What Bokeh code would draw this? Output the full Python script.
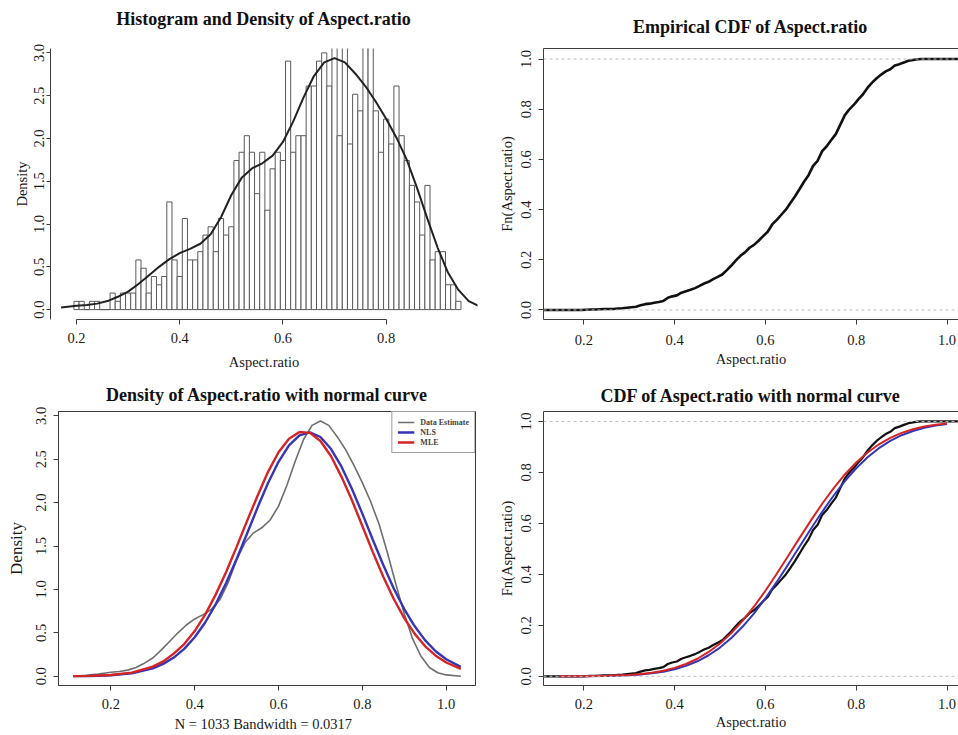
import numpy as np
from bokeh.plotting import figure
from bokeh.layouts import column, row
from bokeh.models import (FixedTicker, PrintfTickFormatter, Legend, LegendItem,
                          LinearAxis, Range1d, Span)
from bokeh.embed import file_html
from bokeh.resources import INLINE

# ------------------------------------------------------------------ data
n_obs = 1033
bandwidth = 0.0317
bin_start = 0.195
bin_width = 0.01
hist_counts = [1, 1, 0, 1, 1, 0, 0, 2, 1, 2, 2,
               2, 6, 5, 2, 4, 3, 4, 13, 6, 4,
               11, 6, 6, 7, 9, 10, 7, 11, 9, 10,
               18, 19, 21, 19, 14, 19, 12, 17, 19, 18,
               30, 19, 21, 21, 27, 27, 30, 31, 27,
               38, 21, 40, 20, 26, 24, 39, 39,
               24, 19, 23, 20, 27, 21, 18, 15, 13, 9, 15, 6, 7, 7, 3, 3, 1]

kde_x = [0.11, 0.14, 0.17, 0.20, 0.22, 0.24, 0.26, 0.28, 0.30, 0.32, 0.34, 0.36,
         0.38, 0.40, 0.42, 0.44, 0.46, 0.48, 0.50, 0.52, 0.54, 0.56, 0.58, 0.60,
         0.62, 0.64, 0.66, 0.68, 0.70, 0.72, 0.74, 0.76, 0.78, 0.80, 0.82, 0.84,
         0.86, 0.88, 0.90, 0.92, 0.94, 0.96, 0.98, 1.00, 1.035]
kde_y = [0.00, 0.01, 0.025, 0.045, 0.055, 0.07, 0.10, 0.15, 0.21, 0.30, 0.40, 0.50,
         0.59, 0.66, 0.71, 0.77, 0.88, 1.08, 1.34, 1.54, 1.65, 1.71, 1.80, 1.96,
         2.20, 2.48, 2.73, 2.89, 2.94, 2.89, 2.76, 2.61, 2.43, 2.23, 2.01, 1.75,
         1.42, 1.06, 0.72, 0.43, 0.23, 0.10, 0.04, 0.015, 0.00]

pdf_x = [0.11, 0.15, 0.20, 0.25, 0.30, 0.325, 0.35, 0.375, 0.40, 0.425, 0.45, 0.475,
         0.50, 0.525, 0.55, 0.575, 0.60, 0.625, 0.65, 0.675, 0.70, 0.725, 0.75, 0.775,
         0.80, 0.825, 0.85, 0.875, 0.90, 0.925, 0.95, 0.975, 1.00, 1.035]
mle_pdf = [0.001, 0.004, 0.014, 0.042, 0.11, 0.171, 0.26, 0.371, 0.52, 0.71, 0.94, 1.20,
           1.49, 1.79, 2.08, 2.355, 2.58, 2.735, 2.813, 2.804, 2.71, 2.538, 2.30, 2.03,
           1.73, 1.43, 1.146, 0.89, 0.67, 0.488, 0.345, 0.237, 0.158, 0.085]
nls_pdf = [0.001, 0.003, 0.011, 0.034, 0.091, 0.142, 0.215, 0.315, 0.449, 0.619, 0.828, 1.074,
           1.35, 1.644, 1.943, 2.226, 2.47, 2.66, 2.776, 2.81, 2.756, 2.62, 2.417, 2.16,
           1.873, 1.573, 1.281, 1.011, 0.774, 0.575, 0.413, 0.288, 0.195, 0.107]

cdf_x = [0.145, 0.2, 0.25, 0.3, 0.325, 0.35, 0.375, 0.4, 0.425, 0.45, 0.475, 0.5,
         0.525, 0.55, 0.575, 0.6, 0.625, 0.65, 0.675, 0.7, 0.725, 0.75, 0.775, 0.8,
         0.825, 0.85, 0.875, 0.9, 0.925, 0.95, 0.975, 1.0]
mle_cdf = [0.0001, 0.0006, 0.0019, 0.0055, 0.009, 0.0143, 0.022, 0.0331, 0.0484, 0.0689,
           0.0956, 0.129, 0.170, 0.2185, 0.274, 0.3358, 0.4024, 0.4718, 0.5422, 0.611,
           0.677, 0.7376, 0.7919, 0.8387, 0.8782, 0.9103, 0.9356, 0.955, 0.9695, 0.9798,
           0.987, 0.9918]
nls_cdf = [0.0001, 0.0004, 0.0015, 0.0044, 0.0073, 0.0117, 0.0182, 0.0277, 0.041, 0.059,
           0.0827, 0.1129, 0.1503, 0.1952, 0.2473, 0.306, 0.3703, 0.4384, 0.5084, 0.578,
           0.6454, 0.7085, 0.7658, 0.8163, 0.8593, 0.895, 0.9236, 0.9459, 0.9626, 0.9749,
           0.9836, 0.9896]

x_ticks_hist = [0.2, 0.4, 0.6, 0.8]
x_ticks = [0.2, 0.4, 0.6, 0.8, 1.0]
y_ticks_dens = [0.0, 0.5, 1.0, 1.5, 2.0, 2.5, 3.0]
y_ticks_cdf = [0.0, 0.2, 0.4, 0.6, 0.8, 1.0]

# ------------------------------------------------------------------ derived
edges = [bin_start + i * bin_width for i in range(len(hist_counts) + 1)]
dens = [c / (n_obs * bin_width) for c in hist_counts]
cum = list(np.concatenate([[0.0], np.cumsum(hist_counts)]) / n_obs)

SERIF = "Liberation Serif"
AX = "#3c3c3c"
TXT = "#1a1a1a"


def make_fig(width, height, xr, yr, borders):
    l, r, t, b = borders
    p = figure(width=width, height=height, x_range=Range1d(*xr), y_range=Range1d(*yr),
               output_backend="svg", toolbar_location=None,
               min_border_left=l, min_border_right=r, min_border_top=t, min_border_bottom=b)
    p.xgrid.visible = False
    p.ygrid.visible = False
    p.background_fill_color = "white"
    p.border_fill_color = "white"
    for ax in list(p.xaxis) + list(p.yaxis):
        ax.formatter = PrintfTickFormatter(format="%.1f")
        ax.major_tick_out = 5
        ax.major_tick_in = 0
        ax.minor_tick_out = 0
        ax.minor_tick_in = 0
        ax.axis_line_color = AX
        ax.major_tick_line_color = AX
        ax.major_label_text_font = SERIF
        ax.major_label_text_font_size = "14.5px"
        ax.major_label_text_color = TXT
        ax.axis_label_text_font = SERIF
        ax.axis_label_text_font_style = "normal"
        ax.axis_label_text_font_size = "14.5px"
        ax.axis_label_text_color = TXT
        ax.major_label_standoff = 8
    p.yaxis.major_label_orientation = "vertical"
    p.yaxis.major_label_standoff = 7
    return p


def add_title(p, title, standoff, top_line):
    """Title carried by a tick-less axis along the top edge of the frame."""
    tax = LinearAxis(ticker=FixedTicker(ticks=[]),
                     axis_line_color=AX if top_line else None,
                     major_tick_out=0, major_tick_in=0, minor_tick_out=0, minor_tick_in=0,
                     major_label_standoff=0,
                     axis_label=title, axis_label_standoff=standoff,
                     axis_label_text_font=SERIF, axis_label_text_font_size="18px",
                     axis_label_text_font_style="bold", axis_label_text_color="#111111")
    p.add_layout(tax, "above")


# ------------------------------------------------------------------ top-left: histogram
tl = make_fig(479, 372, (0.1496, 0.977), (-0.1155, 3.052), (50, 2, 48, 50))
tl.outline_line_color = None
tl.xaxis.ticker = FixedTicker(ticks=x_ticks_hist)
tl.xaxis.bounds = (x_ticks_hist[0], x_ticks_hist[-1])
tl.yaxis.ticker = FixedTicker(ticks=y_ticks_dens)
tl.xaxis.axis_label = "Aspect.ratio"
tl.yaxis.axis_label = "Density"
tl.yaxis.major_tick_out = 4
tl.yaxis.major_label_standoff = 2
tl.yaxis.axis_label_standoff = 2
tl.xaxis.axis_label_standoff = 8
tl.quad(left=edges[:-1], right=edges[1:], bottom=0, top=dens,
        fill_color="white", line_color="#5a5a5a", line_width=1)
tl_kx = [x for x in kde_x if 0.16 <= x <= 0.98]
tl_ky = [y for x, y in zip(kde_x, kde_y) if 0.16 <= x <= 0.98]
tl.line(tl_kx, tl_ky, line_color="#222222", line_width=2)
add_title(tl, "Histogram and Density of Aspect.ratio", 20, False)

# ------------------------------------------------------------------ top-right: ECDF
tr_xr = (0.1112, 1.0253)
tr = make_fig(479, 372, tr_xr, (-0.038, 1.042), (64, 0, 47, 50))
tr.outline_line_color = None
tr.xaxis.ticker = FixedTicker(ticks=x_ticks)
tr.yaxis.ticker = FixedTicker(ticks=y_ticks_cdf)
tr.xaxis.axis_label = "Aspect.ratio"
tr.yaxis.axis_label = "Fn(Aspect.ratio)"
tr.xaxis.major_label_standoff = 10
tr.xaxis.axis_label_standoff = 3
tr.yaxis.axis_label_standoff = 4
for lvl in (0, 1):
    tr.add_layout(Span(location=lvl, dimension="width", line_color="#bdbdbd",
                       line_dash="3 3", line_width=1))
tr.line([tr_xr[0]] + edges + [tr_xr[1]], [0.0] + cum + [1.0],
        line_color="#111111", line_width=2.6)
add_title(tr, "Empirical CDF of Aspect.ratio", 12, True)

# ------------------------------------------------------------------ bottom-left: densities
bl = make_fig(479, 363, (0.075, 1.07), (-0.107, 3.05), (58, 4, 39, 50))
bl.outline_line_color = AX
bl.xaxis.ticker = FixedTicker(ticks=x_ticks)
bl.yaxis.ticker = FixedTicker(ticks=y_ticks_dens)
bl.xaxis.axis_label = "N = %d   Bandwidth = %.4f" % (n_obs, bandwidth)
bl.yaxis.axis_label = "Density"
bl.yaxis.axis_label_text_font_size = "17px"
bl.xaxis.axis_label_standoff = 4
bl.yaxis.axis_label_standoff = 8
r_kde = bl.line(kde_x, kde_y, line_color="#6e6e6e", line_width=1.6)
r_nls = bl.line(pdf_x, nls_pdf, line_color="#3535b5", line_width=2.4)
r_mle = bl.line(pdf_x, mle_pdf, line_color="#d42424", line_width=2.4)
leg = Legend(items=[LegendItem(label="Data Estimate", renderers=[r_kde]),
                    LegendItem(label="NLS", renderers=[r_nls]),
                    LegendItem(label="MLE", renderers=[r_mle])],
             location="top_right", margin=0, padding=5, spacing=0,
             label_text_font=SERIF, label_text_font_size="8px", label_text_font_style="bold",
             label_height=10, glyph_height=10, glyph_width=17, label_standoff=6,
             border_line_color=AX, border_line_width=1, background_fill_alpha=1.0)
bl.add_layout(leg)
add_title(bl, "Density of Aspect.ratio with normal curve", 7, False)

# ------------------------------------------------------------------ bottom-right: CDFs
br = make_fig(479, 363, tr_xr, (-0.036, 1.039), (64, 0, 38, 50))
br.outline_line_color = None
br.xaxis.ticker = FixedTicker(ticks=x_ticks)
br.yaxis.ticker = FixedTicker(ticks=y_ticks_cdf)
br.xaxis.axis_label = "Aspect.ratio"
br.yaxis.axis_label = "Fn(Aspect.ratio)"
br.xaxis.axis_label_standoff = 2
br.yaxis.axis_label_standoff = 4
for lvl in (0, 1):
    br.add_layout(Span(location=lvl, dimension="width", line_color="#bdbdbd",
                       line_dash="3 3", line_width=1))
br.line([tr_xr[0]] + edges + [tr_xr[1]], [0.0] + cum + [1.0],
        line_color="#111111", line_width=2.2)
br.line(cdf_x, nls_cdf, line_color="#3535b5", line_width=2)
br.line(cdf_x, mle_cdf, line_color="#d42424", line_width=2)
add_title(br, "CDF of Aspect.ratio with normal curve", 6, True)

layout = column(row(tl, tr, spacing=0), row(bl, br, spacing=0), spacing=0)

with open("out.html", "w") as f:
    f.write(file_html(layout, INLINE))
